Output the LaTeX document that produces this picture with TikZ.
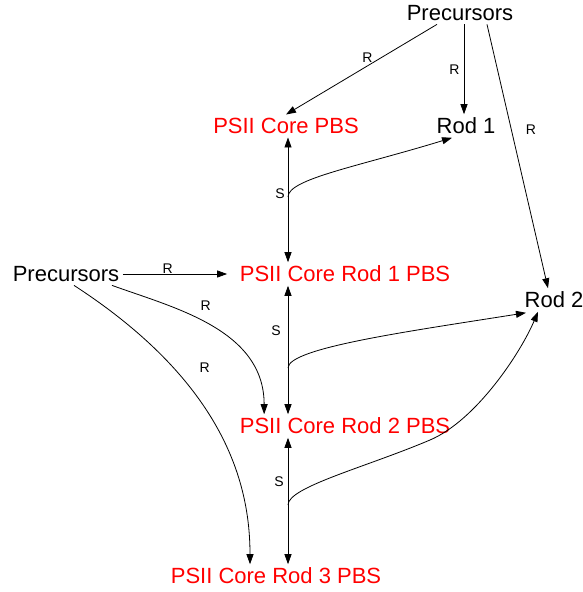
\documentclass[tikz,border=0pt]{standalone}
\usepackage{fontspec}
\setmainfont{Liberation Sans}
\usetikzlibrary{arrows.meta,positioning}

\tikzset{
  species/.style={inner sep=3.5pt,font=\fontsize{22}{26}\selectfont},
  complex/.style={species,text=red},
  lbl/.style={inner sep=0pt,font=\fontsize{14}{16}\selectfont},
  arr/.style={line width=0.8pt,-{Triangle[length=10pt,width=7pt]}},
}

\begin{document}
\begin{tikzpicture}[x=1pt,y=-1pt]
  \useasboundingbox (0,0) rectangle (583,592);

  % Species
  \node[species] (prec1) at (460,13) {Precursors};
  \node[complex] (core) at (286,126) {PSII Core PBS};
  \node[species] (rod1) at (466,126) {Rod 1};
  \node[species] (rod2) at (554,300) {Rod 2};
  \node[species] (prec2) at (66,274) {Precursors};
  \node[complex] (corerod1) at (345,274) {PSII Core Rod 1 PBS};
  \node[complex] (corerod2) at (345,426) {PSII Core Rod 2 PBS};
  \node[complex] (corerod3) at (276,576) {PSII Core Rod 3 PBS};

  % Split points
  \coordinate (split1) at (288,197);
  \coordinate (split2) at (288,368);
  \coordinate (split3) at (288,505);
  \coordinate (bend3) at (430,440);

  % Reactions from the top precursors
  \draw[arr] ([xshift=-23pt]prec1.south) -- (core.north) node[lbl,pos=0.46,above=3pt] (r1) {R};
  \draw[arr] ([xshift=4pt]prec1.south) -- ([xshift=-2pt]rod1.north) node[lbl,midway,left=4pt] (r2) {R};
  \draw[arr] ([xshift=27pt]prec1.south) -- ([xshift=-6pt]rod2.north) node[lbl,pos=0.4,right=14pt] (r3) {R};

  % Reactions from the left precursors
  \draw[arr] (prec2.east) -- ([xshift=-9pt]corerod1.west) node[lbl,pos=0.43,above=0pt] (r4) {R};
  \draw[arr] ([xshift=46pt]prec2.south) to[out=-20,in=90,out distance=65pt,in distance=85pt]
    node[lbl,pos=0.45,above=10pt,xshift=4pt] (r5) {R} ([xshift=28pt]corerod2.north west);
  \draw[arr] ([xshift=8pt]prec2.south) to[out=-33,in=90,out distance=180pt,in distance=80pt]
    node[lbl,pos=0.3,xshift=26pt,yshift=6pt] (r6) {R} ([xshift=-26pt]corerod3.north);

  % Splitting of PSII Core Rod 1 PBS
  \draw[arr] (split1) -- (split1 |- core.south) node[lbl,pos=0.05,left=3pt] (s1) {S};
  \draw[arr] (split1) -- (split1 |- corerod1.north);
  \draw[arr] (split1) to[out=90,in=197,out distance=18pt,in distance=100pt] ([xshift=-14pt]rod1.south);

  % Splitting of PSII Core Rod 2 PBS
  \draw[arr] (split2) -- (split2 |- corerod1.south) node[lbl,pos=0.46,left=7pt] (s2) {S};
  \draw[arr] (split2) -- (split2 |- corerod2.north);
  \draw[arr] (split2) to[out=90,in=189,out distance=20pt,in distance=120pt] ([xshift=5pt,yshift=-1pt]rod2.south west);

  % Splitting of PSII Core Rod 3 PBS
  \draw[arr] (split3) -- (split3 |- corerod2.south) node[lbl,pos=0.34,left=4pt] (s3) {S};
  \draw[arr] (split3) -- (split3 |- corerod3.north);
  \draw[arr] (split3) to[out=90,in=203,out distance=18pt,in distance=70pt] (bend3)
    to[out=23,in=247,out distance=50pt,in distance=45pt] ([xshift=-16pt]rod2.south);
\end{tikzpicture}
\end{document}
